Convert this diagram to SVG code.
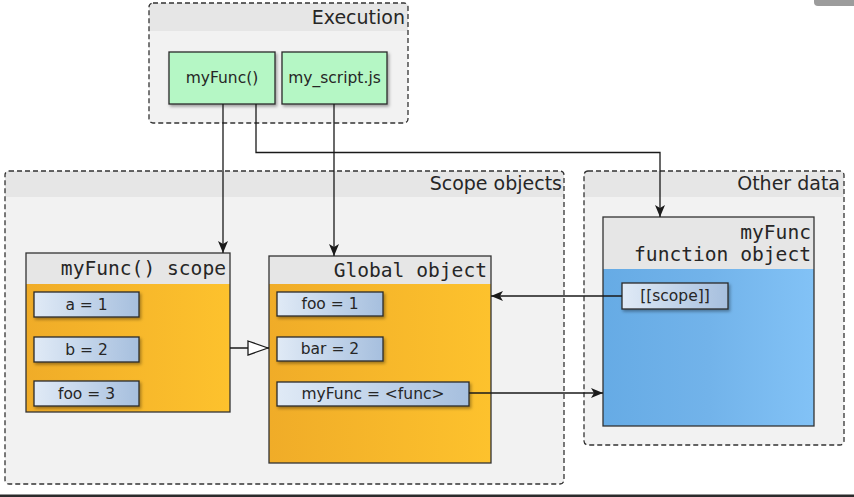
<svg xmlns="http://www.w3.org/2000/svg" width="854" height="497" viewBox="0 0 854 497">
<style>
.cont{fill:#f2f2f2;stroke:none}
.band{fill:#e6e6e6}
.dash{fill:none;stroke:#333;stroke-width:1.3;stroke-dasharray:5,3}
.hdr{font-family:"DejaVu Sans",sans-serif;font-size:19px;fill:#262626;text-anchor:end}
.box{stroke:#333;stroke-width:1.3}
.mono{font-family:"DejaVu Sans Mono",monospace;font-size:19.6px;fill:#262626;text-anchor:end}
.lbl{font-family:"DejaVu Sans",sans-serif;font-size:15.5px;fill:#262626;text-anchor:middle}
.item{fill:url(#gItem);stroke:#2a2a2a;stroke-width:1.3;filter:url(#sh)}
.node{fill:#b5f7c5;stroke:#2a2a2a;stroke-width:1.3;filter:url(#sh)}
.conn{fill:none;stroke:#1a1a1a;stroke-width:1.3}
</style>
<defs>
<linearGradient id="gOr" x1="0" x2="1" y1="0" y2="0"><stop offset="0" stop-color="#f0ac28"/><stop offset="1" stop-color="#fdc22d"/></linearGradient>
<linearGradient id="gBl" x1="0" x2="1" y1="0" y2="0"><stop offset="0" stop-color="#66abe5"/><stop offset="0.5" stop-color="#72b3ea"/><stop offset="1" stop-color="#82c2f6"/></linearGradient>
<linearGradient id="gItem" x1="0" x2="1" y1="0" y2="0"><stop offset="0" stop-color="#e0eaf6"/><stop offset="1" stop-color="#a6bfde"/></linearGradient>
<filter id="sh" x="-10%" y="-20%" width="130%" height="160%"><feDropShadow dx="1.5" dy="2" stdDeviation="1.5" flood-color="#000" flood-opacity="0.35"/></filter>
<marker id="arr" viewBox="0 0 12 10" refX="12" refY="5" markerWidth="12" markerHeight="10" markerUnits="userSpaceOnUse" orient="auto"><path d="M0,0 L12,5 L0,10 L3,5 z" fill="#1a1a1a"/></marker>
<marker id="tri" viewBox="0 0 22 16" refX="22" refY="8" markerWidth="22" markerHeight="16" markerUnits="userSpaceOnUse" orient="auto"><path d="M1,1 L21,8 L1,15 z" fill="#fff" stroke="#1a1a1a" stroke-width="1.3"/></marker>
</defs>
<rect x="814" y="-6" width="45" height="12" rx="4" fill="#9c9c9c"/>
<rect x="0" y="494.5" width="854" height="2.5" fill="#2b2b2b"/>

<g id="execution">
<rect class="cont" x="149" y="3" width="259" height="120" rx="4"/>
<path class="band" d="M153,3 H404 A4,4 0 0 1 408,7 V31 H149 V7 A4,4 0 0 1 153,3 z"/>
<rect class="dash" x="149" y="3" width="259" height="120" rx="4"/>
<text class="hdr" x="405" y="24">Execution</text>
</g>
<g id="scope-objects">
<rect class="cont" x="5" y="171" width="559" height="313" rx="4"/>
<path class="band" d="M9,171 H560 A4,4 0 0 1 564,175 V197 H5 V175 A4,4 0 0 1 9,171 z"/>
<rect class="dash" x="5" y="171" width="559" height="313" rx="4"/>
<text class="hdr" x="562" y="190">Scope objects</text>
</g>
<g id="other-data">
<rect class="cont" x="584" y="171" width="260" height="274" rx="4"/>
<path class="band" d="M588,171 H840 A4,4 0 0 1 844,175 V197 H584 V175 A4,4 0 0 1 588,171 z"/>
<rect class="dash" x="584" y="171" width="260" height="274" rx="4"/>
<text class="hdr" x="840" y="190">Other data</text>
</g>

<g id="myFunc-call">
<rect class="node" x="169" y="52" width="106" height="52"/>
<text class="lbl" x="222" y="83">myFunc()</text>
</g>
<g id="my-script">
<rect class="node" x="282" y="52" width="105" height="52"/>
<text class="lbl" x="334.5" y="83">my_script.js</text>
</g>

<g id="myFunc-scope">
<rect fill="url(#gOr)" x="26" y="253" width="204" height="159"/>
<rect class="band" x="26" y="253" width="204" height="31"/>
<rect class="box" fill="none" x="26" y="253" width="204" height="159"/>
<text class="mono" x="226" y="275">myFunc() scope</text>
<rect class="item" x="34" y="292" width="105" height="25"/>
<text class="lbl" x="86.5" y="310">a = 1</text>
<rect class="item" x="34" y="337" width="105" height="25"/>
<text class="lbl" x="86.5" y="355">b = 2</text>
<rect class="item" x="34" y="381" width="105" height="25"/>
<text class="lbl" x="86.5" y="399">foo = 3</text>
</g>

<g id="global-object">
<rect fill="url(#gOr)" x="269" y="256" width="222" height="207"/>
<rect class="band" x="269" y="256" width="222" height="28"/>
<rect class="box" fill="none" x="269" y="256" width="222" height="207"/>
<text class="mono" x="487" y="277">Global object</text>
<rect class="item" x="277" y="292" width="106" height="24"/>
<text class="lbl" x="330" y="309">foo = 1</text>
<rect class="item" x="277" y="337" width="106" height="24"/>
<text class="lbl" x="330" y="354">bar = 2</text>
<rect class="item" x="277" y="382" width="192" height="24"/>
<text class="lbl" x="373" y="399">myFunc = &lt;func&gt;</text>
</g>

<g id="function-object">
<rect fill="url(#gBl)" x="603" y="217" width="211" height="209"/>
<rect class="band" x="603" y="217" width="211" height="52"/>
<rect class="box" fill="none" x="603" y="217" width="211" height="209"/>
<text class="mono" x="811" y="239">myFunc</text>
<text class="mono" x="811" y="261">function object</text>
<rect class="item" x="622" y="283" width="106" height="26"/>
<text class="lbl" x="675" y="301">[[scope]]</text>
</g>

<g id="connectors">
<path class="conn" d="M223,104 V253" marker-end="url(#arr)"/>
<path class="conn" d="M256,104 V152.5 H660 V217" marker-end="url(#arr)"/>
<path class="conn" d="M334,104 V256" marker-end="url(#arr)"/>
<path class="conn" d="M622,296 H491" marker-end="url(#arr)"/>
<path class="conn" d="M469,393 H603" marker-end="url(#arr)"/>
<path class="conn" d="M230,348 H269" marker-end="url(#tri)"/>
</g>
</svg>
